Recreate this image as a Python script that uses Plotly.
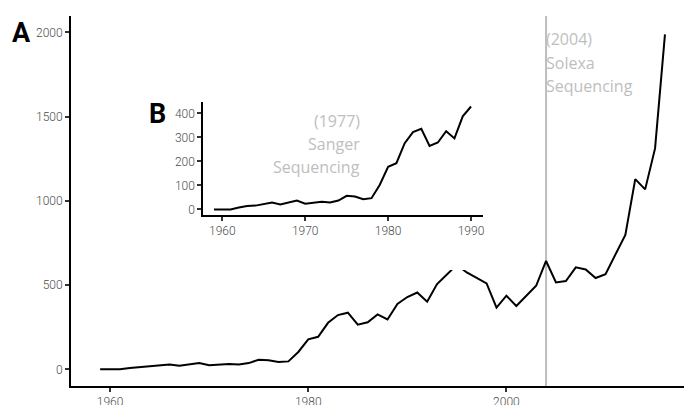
import plotly.graph_objects as go

years = list(range(1959, 2017))
values = [0, 0, 0, 8, 14, 16, 22, 29, 21, 30,
          37, 24, 28, 32, 29, 37, 57, 54, 43, 47,
          103, 178, 193, 276, 322, 336, 265, 279, 326, 296,
          388, 429, 456, 401, 506, 565, 620, 575, 540, 510,
          366, 437, 376, 435, 496, 643, 516, 524, 605, 593,
          542, 565, 682, 798, 1129, 1068, 1311, 1988]

inset_end_year = 1990
main_ticks = [1960, 1980, 2000, 2020]
main_yticks = [0, 500, 1000, 1500, 2000]
inset_ticks = [1960, 1970, 1980, 1990]
inset_yticks = [0, 100, 200, 300, 400]

solexa_year = 2004
solexa_lines = ["(2004)", "Solexa", "Sequencing"]
sanger_year = 1977
sanger_lines = ["(1977)", "Sanger", "Sequencing"]

W, H = 684, 405
ML, MR, MT, MB = 71, 0, 16, 19
PW, PH = W - ML - MR, H - MT - MB


def px2x(px):
    return (px - ML) / PW


def py2y(py):
    return (H - MB - py) / PH


GRAY = "#BEBEBE"
TICKFONT = dict(family="Roboto", size=12, color="#4D4D4D", weight=300)

inset_years = [y for y in years if y <= inset_end_year]
inset_vals = values[:len(inset_years)]

fig = go.Figure()
fig.add_trace(go.Scatter(x=years, y=values, mode="lines",
                         line=dict(color="black", width=2),
                         xaxis="x", yaxis="y", hoverinfo="skip", showlegend=False))
# invisible subplot providing the white backing of the inset viewport
fig.add_trace(go.Scatter(x=[], y=[], mode="lines", xaxis="x2", yaxis="y2",
                         hoverinfo="skip", showlegend=False))
fig.add_trace(go.Scatter(x=inset_years, y=inset_vals, mode="lines",
                         line=dict(color="black", width=2),
                         xaxis="x3", yaxis="y3", hoverinfo="skip", showlegend=False))

axis_common = dict(showline=True, linecolor="black", linewidth=2, ticks="outside",
                   ticklen=4, tickwidth=1.5, tickcolor="#333333", showgrid=False,
                   zeroline=False, tickfont=TICKFONT, automargin=False)

fig.update_layout(
    width=W, height=H,
    margin=dict(l=ML, r=MR, t=MT, b=MB, autoexpand=False),
    paper_bgcolor="white", plot_bgcolor="white",
    xaxis=dict(domain=[0, 1], range=[1956.06, 2017.92], tickvals=main_ticks,
               anchor="y", **axis_common),
    yaxis=dict(domain=[0, 1], range=[-99, 2097], tickvals=main_yticks,
               anchor="x", **axis_common),
    xaxis2=dict(domain=[px2x(135), px2x(495)], anchor="y2", visible=False, range=[0, 1]),
    yaxis2=dict(domain=[py2y(270), py2y(95)], anchor="x2", visible=False, range=[0, 1]),
    xaxis3=dict(domain=[px2x(203.3), px2x(483.3)], range=[1957.71, 1991.48],
                tickvals=inset_ticks, anchor="y3", **axis_common),
    yaxis3=dict(domain=[py2y(214.5), py2y(101.7)], range=[-21, 449],
                tickvals=inset_yticks, anchor="x3", **axis_common),
    shapes=[
        dict(type="line", xref="x", yref="y domain", x0=solexa_year, x1=solexa_year,
             y0=0, y1=1, line=dict(color=GRAY, width=2), layer="below"),
        dict(type="line", xref="x3", yref="y3 domain", x0=sanger_year, x1=sanger_year,
             y0=0, y1=1, line=dict(color=GRAY, width=2), layer="below"),
    ],
)

annots = [
    dict(text="<b>A</b>", x=px2x(21), y=py2y(33), xref="paper", yref="paper",
         xanchor="center", yanchor="middle", showarrow=False,
         font=dict(family="Roboto", size=27, color="black")),
    dict(text="<b>B</b>", x=px2x(157), y=py2y(114), xref="paper", yref="paper",
         xanchor="center", yanchor="middle", showarrow=False,
         font=dict(family="Roboto", size=27, color="black")),
]
for line, py in zip(solexa_lines, [39, 62.5, 86]):
    annots.append(dict(text=line, x=solexa_year, xref="x", y=py2y(py), yref="paper",
                       xanchor="left", yanchor="middle", showarrow=False, xshift=-2,
                       font=dict(family="Open Sans", size=16, color=GRAY)))
for line, py in zip(sanger_lines, [120.7, 143.8, 167.3]):
    annots.append(dict(text=line, x=sanger_year, xref="x3", y=py2y(py), yref="paper",
                       xanchor="right", yanchor="middle", showarrow=False, xshift=-1,
                       font=dict(family="Open Sans", size=16, color=GRAY)))
fig.update_layout(annotations=annots)

fig.write_html("out.html", config={"displayModeBar": False},
               post_script="document.body.style.margin='0';")
